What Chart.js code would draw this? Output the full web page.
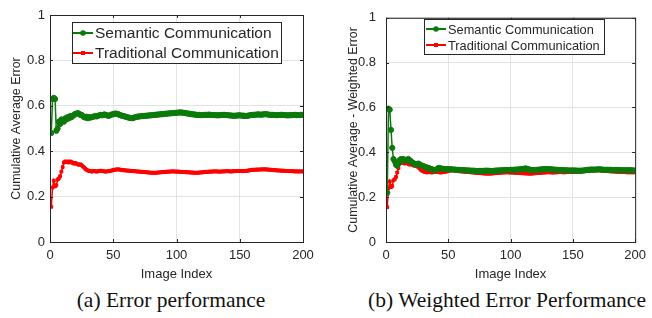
<!DOCTYPE html>
<html>
<head>
<meta charset="utf-8">
<script src="https://cdn.jsdelivr.net/npm/chart.js@4.4.0/dist/chart.umd.min.js"></script>
<style>
  body { margin: 0; background: #fff; width: 652px; height: 318px; position: relative; overflow: hidden; }
  canvas { position: absolute; top: 0; }
  .cap { position: absolute; top: 288px; font-family: "Liberation Serif", "DejaVu Serif", serif; font-size: 21.5px; line-height: 24px; color: #111; white-space: nowrap; transform: translateX(-50%); }
</style>
</head>
<body>
<canvas id="chartA" width="326" height="285" style="left:0px"></canvas>
<canvas id="chartB" width="326" height="285" style="left:326px"></canvas>
<div class="cap" style="left:171px">(a) Error performance</div>
<div class="cap" style="left:507px">(b) Weighted Error Performance</div>
<script>
// x ticks / y ticks
var xTicks = [0, 50, 100, 150, 200];
var yTicks = [0, 0.2, 0.4, 0.6, 0.8, 1];

// cumulative average error, image 1..200
var semanticError = [
  0.48, 0.63, 0.635, 0.63, 0.49, 0.50, 0.53, 0.52, 0.54, 0.535,
  0.53, 0.545, 0.54, 0.55, 0.545, 0.555, 0.55, 0.555, 0.56, 0.565,
  0.565, 0.568, 0.565, 0.56, 0.56, 0.555, 0.55, 0.548, 0.552, 0.545,
  0.55, 0.548, 0.55, 0.552, 0.553, 0.555, 0.553, 0.556, 0.558, 0.56,
  0.558, 0.56, 0.562, 0.56, 0.558, 0.556, 0.557, 0.56, 0.562, 0.563,
  0.565, 0.566, 0.565, 0.563, 0.56, 0.558, 0.556, 0.555, 0.553, 0.552,
  0.55, 0.548, 0.547, 0.546, 0.545, 0.547, 0.549, 0.55, 0.552, 0.553,
  0.553, 0.554, 0.555, 0.555, 0.556, 0.556, 0.557, 0.557, 0.558, 0.558,
  0.559, 0.56, 0.56, 0.561, 0.561, 0.562, 0.562, 0.563, 0.563, 0.564,
  0.565, 0.565, 0.566, 0.566, 0.567, 0.567, 0.568, 0.568, 0.569, 0.569,
  0.57, 0.57, 0.571, 0.57, 0.57, 0.569, 0.568, 0.567, 0.566, 0.565,
  0.564, 0.563, 0.562, 0.562, 0.561, 0.56, 0.56, 0.56, 0.559, 0.559,
  0.559, 0.56, 0.56, 0.56, 0.561, 0.561, 0.56, 0.56, 0.56, 0.559,
  0.559, 0.558, 0.558, 0.559, 0.559, 0.56, 0.56, 0.56, 0.559, 0.559,
  0.558, 0.558, 0.557, 0.557, 0.556, 0.556, 0.557, 0.557, 0.558, 0.558,
  0.557, 0.557, 0.556, 0.556, 0.555, 0.556, 0.557, 0.558, 0.559, 0.56,
  0.56, 0.561, 0.561, 0.562, 0.562, 0.561, 0.561, 0.562, 0.562, 0.563,
  0.563, 0.562, 0.561, 0.56, 0.56, 0.56, 0.56, 0.559, 0.559, 0.559,
  0.559, 0.56, 0.56, 0.56, 0.559, 0.559, 0.558, 0.558, 0.558, 0.559,
  0.559, 0.559, 0.56, 0.56, 0.559, 0.559, 0.559, 0.56, 0.56, 0.56
];
var traditionalError = [
  0.155, 0.24, 0.27, 0.245, 0.25, 0.275, 0.28, 0.29, 0.31, 0.33,
  0.35, 0.355, 0.352, 0.355, 0.35, 0.355, 0.352, 0.348, 0.345, 0.348,
  0.345, 0.342, 0.34, 0.342, 0.338, 0.333, 0.328, 0.322, 0.318, 0.315,
  0.313, 0.312, 0.31, 0.312, 0.313, 0.311, 0.31, 0.312, 0.313, 0.314,
  0.313, 0.312, 0.311, 0.31, 0.311, 0.312, 0.313, 0.314, 0.315, 0.317,
  0.318, 0.319, 0.32, 0.32, 0.319, 0.318, 0.317, 0.316, 0.316, 0.315,
  0.315, 0.314, 0.314, 0.313, 0.313, 0.312, 0.312, 0.311, 0.311, 0.31,
  0.31, 0.309, 0.309, 0.308, 0.308, 0.307, 0.307, 0.306, 0.306, 0.305,
  0.305, 0.305, 0.305, 0.305, 0.306, 0.306, 0.307, 0.307, 0.308, 0.308,
  0.309, 0.309, 0.31, 0.31, 0.31, 0.311, 0.311, 0.311, 0.31, 0.31,
  0.31, 0.31, 0.309, 0.309, 0.308, 0.308, 0.308, 0.307, 0.307, 0.307,
  0.306, 0.306, 0.306, 0.305, 0.305, 0.305, 0.305, 0.306, 0.306, 0.307,
  0.307, 0.308, 0.308, 0.309, 0.309, 0.31, 0.31, 0.31, 0.311, 0.311,
  0.311, 0.311, 0.31, 0.31, 0.31, 0.311, 0.311, 0.311, 0.312, 0.312,
  0.312, 0.311, 0.311, 0.311, 0.312, 0.312, 0.312, 0.313, 0.313, 0.313,
  0.313, 0.312, 0.312, 0.313, 0.313, 0.314, 0.315, 0.316, 0.317, 0.318,
  0.318, 0.318, 0.319, 0.319, 0.319, 0.319, 0.32, 0.32, 0.32, 0.32,
  0.32, 0.319, 0.319, 0.318, 0.318, 0.317, 0.317, 0.316, 0.316, 0.315,
  0.315, 0.315, 0.314, 0.314, 0.314, 0.313, 0.313, 0.313, 0.312, 0.312,
  0.312, 0.312, 0.311, 0.311, 0.311, 0.311, 0.311, 0.311, 0.311, 0.311
];
// weighted error
var semanticWeighted = [
  0.22, 0.595, 0.59, 0.5, 0.42, 0.37, 0.36, 0.345, 0.34, 0.35,
  0.365, 0.37, 0.368, 0.37, 0.362, 0.365, 0.368, 0.37, 0.365, 0.36,
  0.355, 0.352, 0.348, 0.345, 0.348, 0.35, 0.346, 0.342, 0.34, 0.338,
  0.336, 0.334, 0.332, 0.33, 0.328, 0.326, 0.324, 0.322, 0.321, 0.322,
  0.325, 0.33, 0.33, 0.328, 0.327, 0.326, 0.326, 0.325, 0.325, 0.325,
  0.325, 0.324, 0.324, 0.323, 0.323, 0.322, 0.322, 0.322, 0.321, 0.321,
  0.321, 0.32, 0.32, 0.32, 0.319, 0.319, 0.319, 0.318, 0.318, 0.318,
  0.318, 0.317, 0.317, 0.317, 0.317, 0.317, 0.317, 0.317, 0.318, 0.318,
  0.318, 0.318, 0.317, 0.317, 0.317, 0.317, 0.318, 0.318, 0.319, 0.319,
  0.319, 0.32, 0.32, 0.32, 0.321, 0.321, 0.321, 0.321, 0.321, 0.322,
  0.322, 0.322, 0.322, 0.323, 0.323, 0.323, 0.324, 0.324, 0.325, 0.326,
  0.327, 0.328, 0.327, 0.325, 0.323, 0.322, 0.321, 0.321, 0.321, 0.321,
  0.322, 0.322, 0.323, 0.323, 0.324, 0.324, 0.325, 0.325, 0.325, 0.325,
  0.325, 0.324, 0.324, 0.323, 0.323, 0.322, 0.322, 0.322, 0.321, 0.321,
  0.321, 0.321, 0.32, 0.32, 0.32, 0.319, 0.319, 0.319, 0.319, 0.319,
  0.319, 0.319, 0.318, 0.318, 0.318, 0.318, 0.318, 0.319, 0.319, 0.32,
  0.321, 0.322, 0.322, 0.323, 0.323, 0.323, 0.323, 0.323, 0.323, 0.324,
  0.324, 0.324, 0.323, 0.323, 0.322, 0.322, 0.322, 0.322, 0.322, 0.322,
  0.321, 0.321, 0.321, 0.321, 0.321, 0.321, 0.321, 0.32, 0.32, 0.32,
  0.32, 0.32, 0.32, 0.32, 0.32, 0.32, 0.32, 0.319, 0.319, 0.319
];
// traditional curve in (b) reads the same as in (a)
var traditionalWeighted = traditionalError;

var GREEN = '#0b7a0b';
var RED = '#ff0000';
var TXT = '#262626';
var FONT = '"Liberation Sans", Arial, sans-serif';

function toPoints(arr) {
    return arr.map(function (v, i) { return { x: i + 1, y: v }; });
}

// box round the plot + inward ticks + matlab style legend
var framePlugin = {
    id: 'frame',
    afterDatasetsDraw: function (chart, args, opts) {
        var ctx = chart.ctx;
        var a = chart.chartArea;
        var xs = chart.scales.x, ys = chart.scales.y;
        ctx.save();
        ctx.strokeStyle = TXT;
        ctx.lineWidth = 1;
        ctx.strokeRect(a.left + 0.5, a.top + 0.5, a.right - a.left, a.bottom - a.top);
        ctx.beginPath();
        xTicks.forEach(function (t) {
            var px = Math.round(xs.getPixelForValue(t)) + 0.5;
            ctx.moveTo(px, a.bottom); ctx.lineTo(px, a.bottom - 3);
            ctx.moveTo(px, a.top); ctx.lineTo(px, a.top + 3);
        });
        yTicks.forEach(function (t) {
            var py = Math.round(ys.getPixelForValue(t)) + 0.5;
            ctx.moveTo(a.left, py); ctx.lineTo(a.left + 3, py);
            ctx.moveTo(a.right, py); ctx.lineTo(a.right - 3, py);
        });
        ctx.stroke();

        // legend
        var L = opts.legend;
        ctx.fillStyle = '#fff';
        ctx.fillRect(L.x, L.y, L.w, L.h);
        ctx.strokeRect(L.x + 0.5, L.y + 0.5, L.w, L.h);
        ctx.font = L.size + 'px ' + FONT;
        ctx.textBaseline = 'middle';
        chart.data.datasets.forEach(function (ds, i) {
            var ry = L.y + L.rows[i];
            var x0 = L.x + L.pad;
            ctx.strokeStyle = ds.borderColor;
            ctx.lineWidth = 2;
            ctx.beginPath();
            ctx.moveTo(x0, ry); ctx.lineTo(x0 + L.sample, ry);
            ctx.stroke();
            ctx.fillStyle = ds.borderColor;
            ctx.beginPath();
            if (i === 0) {
                ctx.arc(x0 + L.sample / 2, ry, 2.8, 0, Math.PI * 2);
            } else {
                ctx.rect(x0 + L.sample / 2 - 2, ry - 2, 4, 4);
            }
            ctx.fill();
            ctx.fillStyle = TXT;
            ctx.fillText(ds.label, x0 + L.sample + 2, ry + 1);
        });
        ctx.restore();
    }
};

function makeChart(id, yTitle, semData, tradData, yAxisW, yTitlePad, yTickPad, rightPad, legend) {
    var el = document.getElementById(id).getContext('2d');
    return new Chart(el, {
        type: 'line',
        data: {
            datasets: [{
                label: 'Semantic Communication',
                data: toPoints(semData),
                borderColor: GREEN,
                backgroundColor: GREEN,
                borderWidth: 1.5,
                pointRadius: 2.6,
                pointBorderWidth: 1,
                pointBackgroundColor: GREEN,
                tension: 0
            }, {
                label: 'Traditional Communication',
                data: toPoints(tradData),
                borderColor: RED,
                backgroundColor: RED,
                borderWidth: 1.5,
                pointRadius: 2,
                pointStyle: 'rect',
                pointBorderWidth: 1,
                pointBackgroundColor: RED,
                tension: 0
            }]
        },
        options: {
            responsive: false,
            animation: false,
            layout: { padding: { left: 0, right: rightPad, top: 15, bottom: 0 } },
            plugins: {
                legend: { display: false },
                tooltip: { enabled: false },
                frame: { legend: legend }
            },
            scales: {
                x: {
                    type: 'linear',
                    min: 0, max: 200,
                    afterBuildTicks: function (s) { s.ticks = xTicks.map(function (v) { return { value: v }; }); },
                    afterFit: function (s) { s.height = 43; },
                    grid: { color: '#e3e3e3', drawTicks: false },
                    border: { display: false },
                    ticks: { color: TXT, padding: 6, font: { family: FONT, size: 13 }, maxRotation: 0 },
                    title: { display: true, text: 'Image Index', color: TXT, padding: { top: 0, bottom: 3 }, font: { family: FONT, size: 13 } }
                },
                y: {
                    min: 0, max: 1,
                    afterBuildTicks: function (s) { s.ticks = yTicks.map(function (v) { return { value: v }; }); },
                    afterFit: function (s) { s.width = yAxisW; },
                    grid: { color: '#e3e3e3', drawTicks: false },
                    border: { display: false },
                    ticks: {
                        color: TXT, padding: yTickPad, font: { family: FONT, size: 13 },
                        callback: function (v) { return String(Math.round(v * 10) / 10); }
                    },
                    title: { display: true, text: yTitle, color: TXT, padding: { top: yTitlePad, bottom: 0 }, font: { family: FONT, size: 12.4 } }
                }
            }
        },
        plugins: [framePlugin]
    });
}

makeChart('chartA', 'Cumulative Average Error', semanticError, traditionalError,
    50, 9, 5, 23,
    { x: 72, y: 22, w: 209, h: 41, pad: 1, sample: 20, rows: [11, 31], size: 15.5 });

makeChart('chartB', 'Cumulative Average - Weighted Error', semanticWeighted, traditionalWeighted,
    60, 20, 10, 11,
    { x: 98, y: 19, w: 180, h: 35, pad: 2, sample: 20, rows: [10, 26], size: 12.8 });
</script>
</body>
</html>
